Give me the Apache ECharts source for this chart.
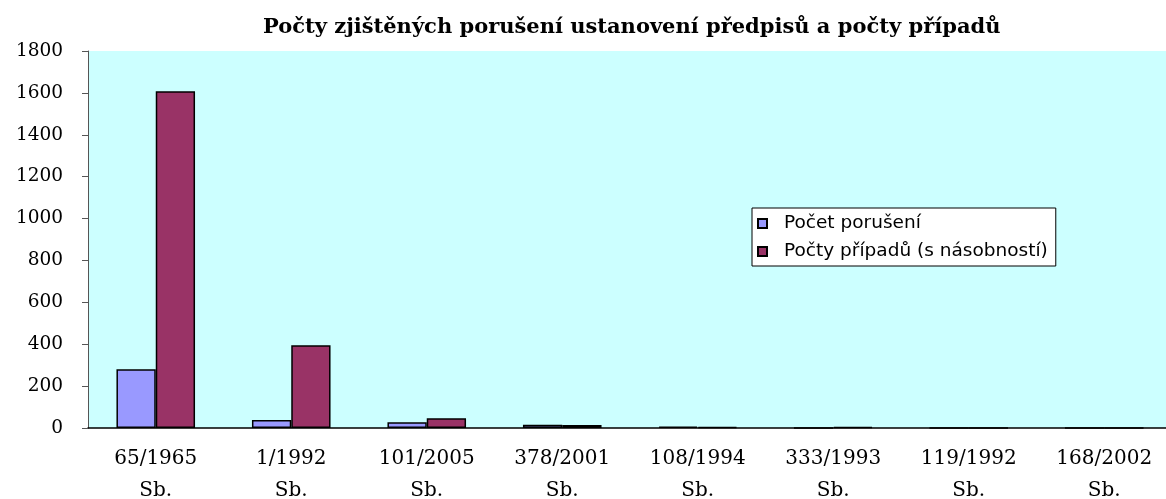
<!DOCTYPE html>
<html>
  <head>
    <meta charset="utf-8">
    <script src="https://cdn.jsdelivr.net/npm/echarts@6/dist/echarts.min.js"></script>
    <style>
      html, body { margin: 0; padding: 0; background: #fff; }
    </style>
  </head>
  <body>
    <div id="chart" style="width:1166px;height:499px;"></div>
    <script>
      var categories = ['65/1965 Sb.', '1/1992 Sb.', '101/2005 Sb.', '378/2001 Sb.',
                        '108/1994 Sb.', '333/1993 Sb.', '119/1992 Sb.', '168/2002 Sb.'];
      var porušení = [280, 38, 27, 15, 6, 0, 0, 0];
      var případy = [1608, 395, 46, 14, 5, 5, 0, 0];
      var yTicks = [0, 200, 400, 600, 800, 1000, 1200, 1400, 1600, 1800];

      var chart = echarts.init(document.getElementById('chart'), null, { renderer: 'canvas' });

      chart.setOption({
        animation: false,
        backgroundColor: '#fff',
        title: {
          text: 'Počty zjištěných porušení ustanovení předpisů a počty případů',
          left: 258,
          top: 12,
          textStyle: { fontFamily: 'DejaVu Serif', fontWeight: 'bold', fontSize: 21, color: '#000' }
        },
        legend: {
          orient: 'vertical',
          left: 752,
          top: 208,
          padding: [6, 8, 5, 5],
          itemGap: 9,
          itemWidth: 9,
          itemHeight: 9,
          icon: 'rect',
          backgroundColor: '#fff',
          borderColor: '#000',
          borderWidth: 1,
          textStyle: { fontFamily: 'DejaVu Sans', fontSize: 18.5, color: '#000', padding: [0, 0, 0, 12] }
        },
        grid: {
          left: 88,
          top: 51,
          width: 1084,
          bottom: 71,
          show: true,
          backgroundColor: '#ccffff',
          borderWidth: 0,
          outerBoundsMode: 'none',
          containLabel: false
        },
        xAxis: {
          type: 'category',
          data: categories,
          axisLine: { lineStyle: { color: '#000', width: 1.5 } },
          axisTick: { length: 7, lineStyle: { color: '#555' } },
          axisLabel: {
            margin: 15,
            fontFamily: 'DejaVu Serif',
            fontSize: 20,
            lineHeight: 32,
            color: '#000',
            interval: 0,
            formatter: function (v) { return v.replace(' ', '\n'); }
          }
        },
        yAxis: {
          type: 'value',
          min: 0,
          max: yTicks[yTicks.length - 1],
          interval: yTicks[1] - yTicks[0],
          splitLine: { show: false },
          axisLine: { show: true, lineStyle: { color: '#555', width: 1 } },
          axisTick: { show: true, length: 6, lineStyle: { color: '#555' } },
          axisLabel: {
            margin: 25,
            fontFamily: 'DejaVu Serif',
            fontSize: 18.5,
            color: '#000',
            formatter: function (v) { return String(v); }
          }
        },
        series: [
          {
            name: 'Počet porušení',
            type: 'bar',
            data: porušení,
            barWidth: '29%',
            barGap: '0%',
            itemStyle: { color: '#9999ff', borderColor: '#000', borderWidth: 1.5 }
          },
          {
            name: 'Počty případů (s násobností)',
            type: 'bar',
            data: případy,
            barWidth: '29%',
            itemStyle: { color: '#993366', borderColor: '#000', borderWidth: 1.5 }
          }
        ]
      });
    </script>
  </body>
</html>
